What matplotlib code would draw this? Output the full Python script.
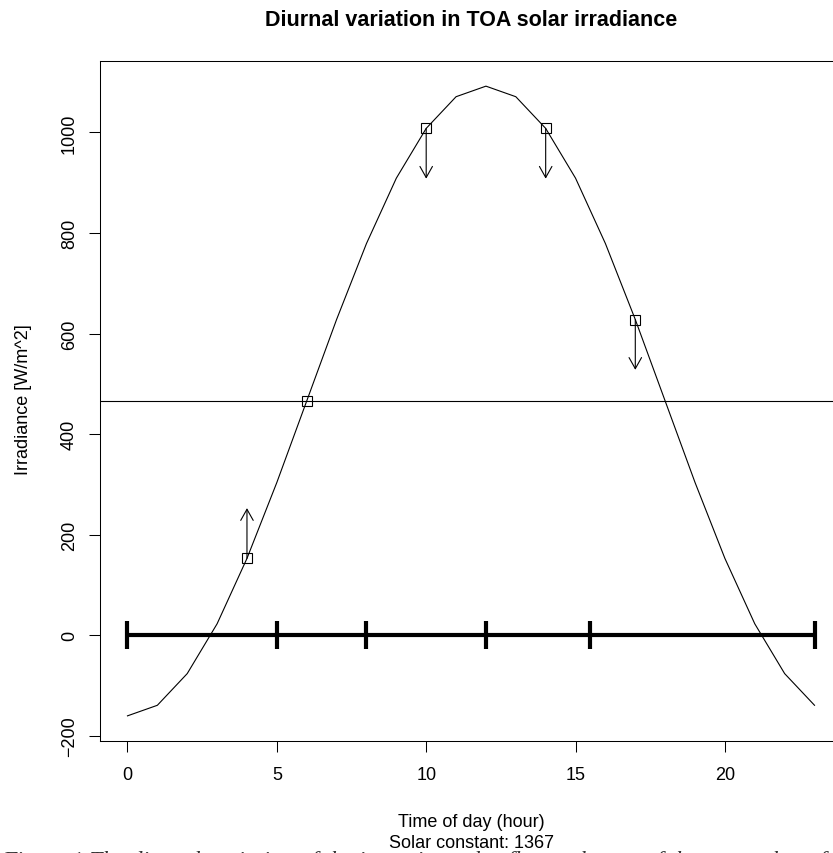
import matplotlib
matplotlib.use("Agg")
import matplotlib.pyplot as plt
from matplotlib.patches import FancyArrowPatch

plt.rcParams['font.family'] = ['Liberation Sans', 'DejaVu Sans']

# irradiance at top of atmosphere, hourly
hours = list(range(24))
irradiance = [-160, -139, -76, 23, 153, 304, 466, 628, 779, 909, 1008, 1071,
              1092, 1071, 1008, 909, 779, 628, 466, 304, 153, 23, -76, -139]
mean_irr = 466

# marked hours and arrow tips
mark_hours = [4, 6, 10, 14, 17]
mark_vals = [153, 466, 1008, 1008, 628]
arrow_hours = [4, 10, 14, 17]
arrow_from = [153, 1008, 1008, 628]
arrow_to = [253, 908, 908, 528]

# thick bar along zero with tick marks
bar_ticks = [0, 5, 8, 12, 15.5, 23]

W, H = 833, 854
fig = plt.figure(figsize=(W / 100, H / 100), dpi=100)
# box in pixels: left 100, right 842 (cropped), top 62, bottom 742
ax = fig.add_axes([100 / W, (H - 742) / H, 742 / W, 680 / H])

ax.plot(hours, irradiance, color='black', lw=0.8)
ax.axhline(mean_irr, color='black', lw=0.8)
ax.plot(mark_hours, mark_vals, 's', ms=6.5, mfc='none', mec='black', mew=0.8)
for x, y0, y1 in zip(arrow_hours, arrow_from, arrow_to):
    ax.add_patch(FancyArrowPatch((x, y0), (x, y1),
                                 arrowstyle='->,head_length=0.8,head_width=0.45',
                                 mutation_scale=10, lw=0.8, color='black',
                                 shrinkA=0, shrinkB=0))

ax.plot([bar_ticks[0], bar_ticks[-1]], [0, 0], color='black', lw=3,
        solid_capstyle='butt')
for t in bar_ticks:
    ax.plot([t, t], [-28, 28], color='black', lw=3, solid_capstyle='butt')

ax.set_xlim(-0.92, 23.92)
ax.set_ylim(-210, 1142)
ax.set_xticks([0, 5, 10, 15, 20])
ax.set_yticks([-200, 0, 200, 400, 600, 800, 1000])
ax.set_yticklabels(['\u2212200', '0', '200', '400', '600', '800', '1000'],
                   rotation=90, va='center')
ax.tick_params(direction='out', length=8, width=0.75, labelsize=13, pad=8)
ax.tick_params(axis='x', pad=10)
for s in ax.spines.values():
    s.set_linewidth(0.75)

fig.text(471 / W, 1 - 26 / H, 'Diurnal variation in TOA solar irradiance',
         ha='center', va='baseline', fontsize=15.5, fontweight='bold')
fig.text(471 / W, 1 - 827 / H, 'Time of day (hour)', ha='center',
         va='baseline', fontsize=13)
fig.text(471 / W, 1 - 848 / H, 'Solar constant: 1367', ha='center',
         va='baseline', fontsize=13)
fig.text(24 / W, 1 - 400 / H, 'Irradiance [W/m^2]', ha='center', va='center',
         rotation=90, fontsize=13)

# caption of the page, only its top edge shows at the bottom
fig.text(2 / W, 1 - 851 / H,
         'Figure 1 The diurnal variation of the incoming solar flux at the top of the atmosphere from the',
         ha='left', va='top', fontsize=17, style='italic',
         family=['Liberation Serif', 'DejaVu Serif'], color='#333333')

fig.savefig('out.png', dpi=100)
